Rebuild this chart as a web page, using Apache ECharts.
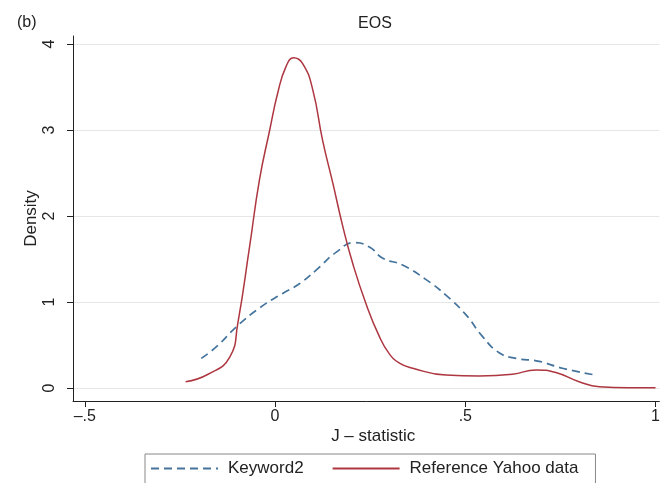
<!DOCTYPE html>
<html>
<head>
<meta charset="utf-8">
<script src="https://cdn.jsdelivr.net/npm/echarts@6/dist/echarts.min.js"></script>
<style>
    html, body { margin: 0; padding: 0; background: #fff; }
    #chart { width: 663px; height: 483px; }
</style>
</head>
<body>
<div id="chart"></div>
<script>
// kernel density estimates
const keywordX = [-0.194, -0.154, -0.102, -0.041, 0.02, 0.06, 0.108, 0.161, 0.209, 0.248, 0.283, 0.335, 0.397, 0.449, 0.502, 0.545, 0.589, 0.633, 0.694, 0.755, 0.843];
const keywordY = [0.345, 0.48, 0.71, 0.93, 1.10, 1.20, 1.37, 1.58, 1.69, 1.64, 1.51, 1.43, 1.26, 1.08, 0.85, 0.60, 0.41, 0.345, 0.31, 0.23, 0.15];

const yahooX = [-0.235, -0.176, -0.119, -0.098, -0.067, -0.041, -0.014, 0.007, 0.029, 0.049, 0.073, 0.099, 0.125, 0.152, 0.178, 0.204, 0.239, 0.274, 0.30, 0.327, 0.362, 0.449, 0.537, 0.624, 0.686, 0.738, 0.799, 0.852, 0.93, 1.0];
const yahooY = [0.073, 0.16, 0.36, 0.75, 1.64, 2.42, 3.0, 3.43, 3.74, 3.84, 3.77, 3.47, 2.88, 2.38, 1.88, 1.45, 0.98, 0.60, 0.40, 0.29, 0.23, 0.15, 0.14, 0.16, 0.21, 0.18, 0.073, 0.015, 0.003, 0.003];

const xTicks = [-0.5, 0, 0.5, 1];
const yTicks = [0, 1, 2, 3, 4];

const seriesNames = ["Keyword2", "Reference Yahoo data"];
const blue = "#44739c";
const red = "#ad3640";
const font = "Liberation Sans";
const ink = "#222";

function pairs(xs, ys) {
    return xs.map((x, i) => [x, ys[i]]);
}

// stata style: no leading zero, dash for minus
function stataLabel(v) {
    if (v === 0) return "0";
    let s = String(Math.abs(v)).replace(/^0\./, ".");
    return (v < 0 ? "\u2013" : "") + s;
}

const chart = echarts.init(document.getElementById("chart"));

chart.setOption({
    backgroundColor: "#fff",
    animation: false,
    textStyle: { fontFamily: font },
    title: [
        { text: "(b)", left: 12, top: 10, textStyle: { fontFamily: font, fontSize: 16, fontWeight: "normal", color: ink } },
        { text: "EOS", left: 370, top: 11, textAlign: "center", textStyle: { fontFamily: font, fontSize: 16, fontWeight: "normal", color: ink } }
    ],
    grid: { left: 73, right: 3, top: 36, bottom: 82 },
    xAxis: {
        type: "value",
        min: -0.531,
        max: 1.01,
        name: "J \u2013 statistic",
        nameLocation: "middle",
        nameGap: 27,
        nameMoveOverlap: false,
        nameTextStyle: { fontFamily: font, fontSize: 17, color: ink, padding: [0, 0, 0, 14] },
        axisLine: { onZero: false, lineStyle: { color: ink, width: 1 } },
        axisTick: { show: true, length: 6, customValues: xTicks, lineStyle: { color: ink } },
        axisLabel: { customValues: xTicks, formatter: stataLabel, fontFamily: font, fontSize: 16, color: ink, margin: 8 },
        splitLine: { show: false }
    },
    yAxis: {
        type: "value",
        min: -0.151,
        max: 4.093,
        name: "Density",
        nameLocation: "middle",
        nameGap: 33,
        nameMoveOverlap: false,
        nameRotate: 90,
        nameTextStyle: { fontFamily: font, fontSize: 17, color: ink },
        axisLine: { show: true, onZero: false, lineStyle: { color: ink, width: 1 } },
        axisTick: { show: true, length: 6, customValues: yTicks, lineStyle: { color: ink } },
        axisLabel: { customValues: yTicks, rotate: 90, fontFamily: font, fontSize: 16, color: ink, margin: 15 },
        splitLine: { show: true, lineStyle: { color: "#e6e6e6", width: 1 } }
    },
    legend: {
        left: 145,
        top: 454,
        width: 450,
        padding: [6, 17, 30, 5],
        itemGap: 28,
        itemWidth: 67,
        itemHeight: 4,
        borderColor: "#888",
        borderWidth: 1,
        borderRadius: 0,
        itemStyle: { opacity: 0 },
        textStyle: { fontFamily: font, fontSize: 17, color: ink, padding: [0, 0, 0, 5] },
        data: seriesNames
    },
    series: [
        {
            name: seriesNames[0],
            type: "line",
            smooth: true,
            showSymbol: false,
            symbol: "none",
            data: pairs(keywordX, keywordY),
            lineStyle: { color: blue, width: 1.7, type: [8, 5] },
            itemStyle: { color: blue }
        },
        {
            name: seriesNames[1],
            type: "line",
            smooth: true,
            showSymbol: false,
            symbol: "none",
            data: pairs(yahooX, yahooY),
            lineStyle: { color: red, width: 1.5 },
            itemStyle: { color: red }
        }
    ]
});
</script>
</body>
</html>
